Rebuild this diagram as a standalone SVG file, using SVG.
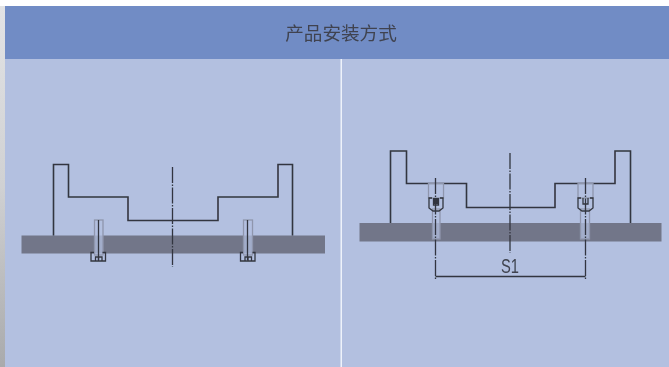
<svg xmlns="http://www.w3.org/2000/svg" width="669" height="367" viewBox="0 0 669 367">
<defs>
<linearGradient id="side" x1="0" y1="0" x2="0" y2="1"><stop offset="0" stop-color="#e2e3e5"/><stop offset="0.5" stop-color="#d0d1d3"/><stop offset="1" stop-color="#a9aaac"/></linearGradient>
<filter id="soft" x="-5%" y="-5%" width="110%" height="110%"><feGaussianBlur stdDeviation="0.35"/></filter>
</defs>
<style>
.ln{fill:none;stroke:#33363f;stroke-width:1.6}
.cl{fill:none;stroke:#33363f;stroke-width:1.3;stroke-dasharray:16 1.5 1.5 1.5}
.thin{fill:none;stroke:#33363f;stroke-width:1.3}
.hole{fill:#b3c0e0;fill-opacity:.75;stroke:#8f96ad;stroke-width:1.3}
.plate{fill:#727689}
.blur{filter:url(#soft)}
text{font-family:"Noto Sans CJK SC","Liberation Sans",sans-serif;fill:#3f434f}
</style>
<rect width="669" height="367" fill="#fff"/>
<rect x="0" y="6" width="5" height="361" fill="url(#side)"/>
<g id="panel">
<rect x="5" y="59" width="664" height="308" fill="#b3c0e0"/>
<rect x="5" y="6" width="664" height="53" fill="#718cc5"/>
<rect x="340.500" y="59" width="1.500" height="308" fill="#eef2fa"/>
</g>
<text id="title" x="341" y="40" font-size="18.600" text-anchor="middle" class="blur">产品安装方式</text>
<g id="left-mount" class="blur">
<rect class="plate" x="21.500" y="235.500" width="303.500" height="18"/>
<path class="ln" d="M53.500 235.500V164.500H68.500V197H128V220.500H218V197H278V164.500H292.500V235.500"/>
<path class="cl" d="M172.500 167V267"/>
<g id="left-screw-1">
<rect class="hole" x="94.500" y="220" width="8.500" height="35"/>
<path class="thin" d="M98.500 220V260"/>
<path class="thin" d="M94 252.500H91V261H105.500V252.500H102.500M95.500 261V257H102V261M98.500 257V261"/>
</g>
<g id="left-screw-2">
<rect class="hole" x="243.500" y="220" width="9" height="35"/>
<path class="thin" d="M247.500 220V260"/>
<path class="thin" d="M243 252.500H240.500V261H255V252.500H252.500M245 261V257H251.500V261M248 257V261"/>
</g>
</g>
<g id="right-mount" class="blur">
<rect class="plate" x="359.500" y="223" width="302" height="18.500"/>
<path class="ln" d="M390.500 223V151H406.500V183.500H466.500V207.500H555V183.500H615V151H630.500V223"/>
<path class="cl" d="M510 153V253"/>
<g id="right-screw-1">
<path class="hole" d="M428.500 183.500H443.500V198H428.500Z"/>
<rect class="hole" x="432.500" y="209" width="7.500" height="30"/>
<path class="thin" d="M432 198H429V208L433 211H439L443 208V198H440M433.500 198V205H438.500V198"/>
<rect x="433" y="198" width="6" height="6" fill="#33363f"/>
</g>
<g id="right-screw-2">
<path class="hole" d="M578 183.500H593V198H578Z"/>
<rect class="hole" x="580.500" y="209" width="9" height="30"/>
<path class="thin" d="M581 198H578V208L582 211H589L593 208V198H590M583 198V204H588V198"/>
</g>
</g>
<g id="connectors" class="blur">
<path class="cl" d="M435.500 178V279"/>
<path class="cl" d="M585.500 178V279"/>
<path class="thin" d="M435.500 276.500H585.500"/>
</g>
<text id="s1" x="501" y="272.500" font-size="20" class="blur" style="font-family:'Liberation Sans',sans-serif" textLength="18" lengthAdjust="spacingAndGlyphs">S1</text>
</svg>
